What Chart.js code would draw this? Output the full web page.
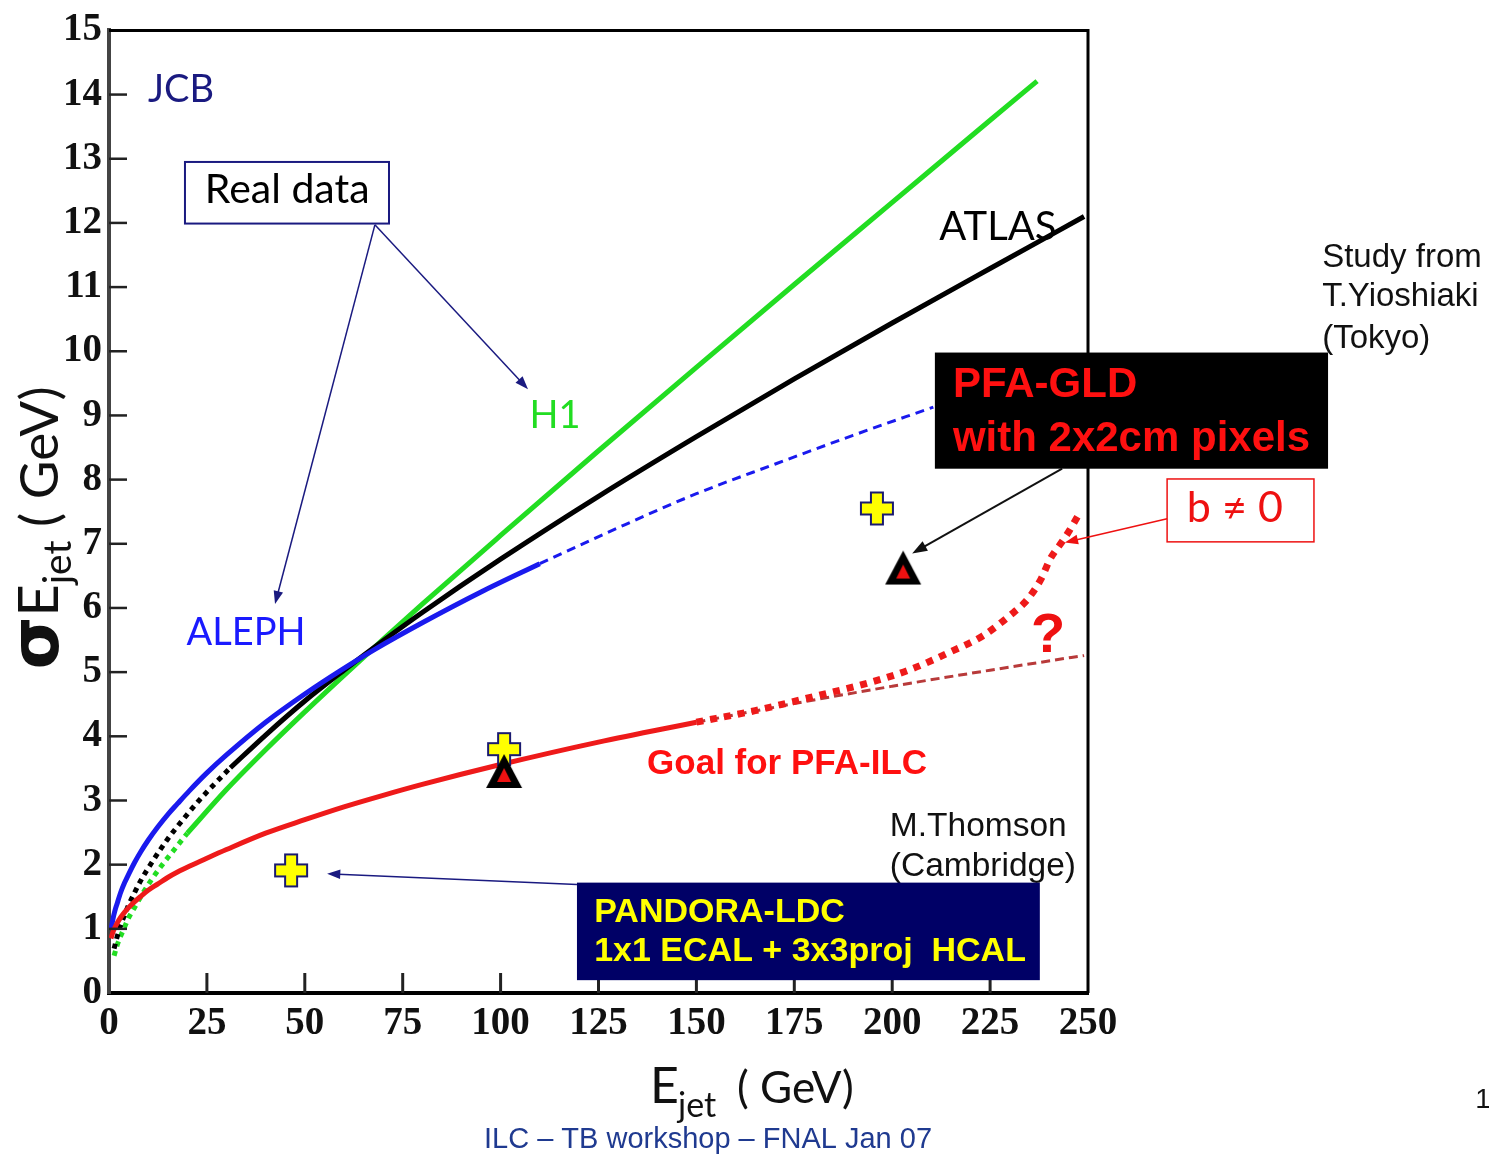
<!DOCTYPE html>
<html>
<head>
<meta charset="utf-8">
<script src="https://cdn.jsdelivr.net/npm/chart.js@4.4.1/dist/chart.umd.min.js"></script>
<style>
  html, body { margin: 0; padding: 0; background: #fff; }
  #wrap { width: 1489px; height: 1154px; }
</style>
</head>
<body>
<div id="wrap"><canvas id="jetChart" width="1489" height="1154"></canvas></div>
<script>
// axis ticks
const xTicks = [0, 25, 50, 75, 100, 125, 150, 175, 200, 225, 250];
const yTicks = [0, 1, 2, 3, 4, 5, 6, 7, 8, 9, 10, 11, 12, 13, 14, 15];

// H1 (green), dotted at low energy then solid
const h1LowE = [1.3, 2, 3, 4, 5, 6.5, 8, 11, 14, 17, 20];
const h1LowSigma = [0.58, 0.73, 0.89, 1.03, 1.17, 1.33, 1.49, 1.78, 2.03, 2.26, 2.49];
const h1E = [20, 30, 40, 50, 60, 70, 80, 100, 125, 150, 175, 200, 225, 237];
const h1Sigma = [2.49, 3.17, 3.79, 4.38, 4.95, 5.51, 6.06, 7.13, 8.45, 9.75, 11.04, 12.32, 13.60, 14.21];

// ATLAS (black)
const atlasLowE = [1.3, 2, 3, 4, 5, 6.5, 8, 11, 15, 19, 23, 27, 31];
const atlasLowSigma = [0.69, 0.86, 1.06, 1.22, 1.37, 1.56, 1.74, 2.04, 2.40, 2.71, 3.00, 3.26, 3.51];
const atlasE = [31, 40, 50, 60, 70, 80, 100, 125, 150, 175, 200, 225, 249];
const atlasSigma = [3.51, 4.02, 4.55, 5.03, 5.49, 5.93, 6.76, 7.74, 8.67, 9.57, 10.44, 11.29, 12.10];

// ALEPH (blue), solid then dashed extrapolation
const alephE = [0.5, 1, 1.5, 2, 3, 4, 5, 6.5, 8, 10, 12.5, 15, 17.5, 20.5, 25, 30, 40, 50, 60, 68, 80, 95, 110];
const alephSigma = [0.98, 1.15, 1.28, 1.38, 1.57, 1.72, 1.85, 2.03, 2.19, 2.38, 2.59, 2.78, 2.95, 3.15, 3.43, 3.71, 4.22, 4.66, 5.06, 5.36, 5.77, 6.25, 6.69];
const alephExtE = [110, 130, 150, 170, 190, 210.5];
const alephExtSigma = [6.69, 7.25, 7.78, 8.24, 8.69, 9.13];

// Goal for PFA-ILC (red)
const goalE = [0.5, 1, 1.5, 2, 3, 4, 5, 6.5, 8, 10, 12.5, 15, 17.5, 20.5, 25, 30, 40, 50, 60, 70, 80, 100, 125, 150];
const goalSigma = [0.85, 0.95, 1.02, 1.08, 1.18, 1.26, 1.33, 1.42, 1.50, 1.60, 1.70, 1.80, 1.885, 1.975, 2.10, 2.235, 2.49, 2.70, 2.90, 3.08, 3.25, 3.56, 3.91, 4.22];
const goalBE = [150, 165, 180, 195, 205, 215, 223, 230, 234.5, 238, 240.4, 243, 245, 247.3];
const goalBSigma = [4.22, 4.40, 4.62, 4.85, 5.05, 5.32, 5.56, 5.88, 6.13, 6.45, 6.77, 7.00, 7.18, 7.42];
const goalExtE = [150, 175, 200, 225, 249];
const goalExtSigma = [4.22, 4.51, 4.78, 5.03, 5.26];

// simulation points
const pandoraE = [46.5, 100.9, 196.1];
const pandoraSigma = [1.91, 3.80, 7.55];
const gldE = [100.9, 202.8];
const gldSigma = [3.46, 6.63];

function pts(xs, ys) {
  return xs.map((x, i) => ({ x: x, y: ys[i] }));
}

// marker images
function plusImage() {
  const c = document.createElement("canvas");
  c.width = 36; c.height = 36;
  const g = c.getContext("2d");
  const a = 12, b = 24;
  g.beginPath();
  g.moveTo(a, 2); g.lineTo(b, 2); g.lineTo(b, a); g.lineTo(34, a); g.lineTo(34, b);
  g.lineTo(b, b); g.lineTo(b, 34); g.lineTo(a, 34); g.lineTo(a, b); g.lineTo(2, b);
  g.lineTo(2, a); g.lineTo(a, a); g.closePath();
  g.fillStyle = "#ffff00"; g.fill();
  g.lineWidth = 2; g.strokeStyle = "#1a1a70"; g.stroke();
  return c;
}
function triImage() {
  const c = document.createElement("canvas");
  c.width = 38; c.height = 36;
  const g = c.getContext("2d");
  g.beginPath(); g.moveTo(19, 1); g.lineTo(37, 35); g.lineTo(1, 35); g.closePath();
  g.fillStyle = "#000"; g.fill();
  g.beginPath(); g.moveTo(19, 15); g.lineTo(26, 29); g.lineTo(12, 29); g.closePath();
  g.fillStyle = "#ee1111"; g.fill();
  return c;
}

function arrow(ctx, x1, y1, x2, y2, color, w, head) {
  const ang = Math.atan2(y2 - y1, x2 - x1);
  ctx.strokeStyle = color; ctx.fillStyle = color; ctx.lineWidth = w;
  ctx.beginPath(); ctx.moveTo(x1, y1);
  ctx.lineTo(x2 - head * 0.8 * Math.cos(ang), y2 - head * 0.8 * Math.sin(ang)); ctx.stroke();
  ctx.beginPath(); ctx.moveTo(x2, y2);
  ctx.lineTo(x2 - head * Math.cos(ang - 0.35), y2 - head * Math.sin(ang - 0.35));
  ctx.lineTo(x2 - head * Math.cos(ang + 0.35), y2 - head * Math.sin(ang + 0.35));
  ctx.closePath(); ctx.fill();
}

function txt(ctx, s, x, y, font, color, align) {
  ctx.font = font; ctx.fillStyle = color;
  ctx.textAlign = align || "left"; ctx.textBaseline = "middle";
  ctx.fillText(s, x, y);
}

const decor = {
  id: "decor",
  afterDraw(chart) {
    const ctx = chart.ctx, a = chart.chartArea;
    const xs = chart.scales.x, ys = chart.scales.y;
    const X = v => xs.getPixelForValue(v), Y = v => ys.getPixelForValue(v);
    ctx.save();

    // frame top and right
    ctx.strokeStyle = "#000"; ctx.lineWidth = 3;
    ctx.beginPath(); ctx.moveTo(a.left, a.top); ctx.lineTo(a.right, a.top); ctx.lineTo(a.right, a.bottom); ctx.stroke();

    // inward ticks
    ctx.strokeStyle = "#222"; ctx.lineWidth = 3;
    xTicks.slice(1, -1).forEach(v => {
      ctx.beginPath(); ctx.moveTo(X(v), a.bottom); ctx.lineTo(X(v), a.bottom - 20); ctx.stroke();
    });
    ctx.lineWidth = 2.5;
    yTicks.slice(1, -1).forEach(v => {
      ctx.beginPath(); ctx.moveTo(a.left, Y(v)); ctx.lineTo(a.left + 18, Y(v)); ctx.stroke();
    });

    // labels inside the plot
    txt(ctx, "JCB", X(18.4), Y(14.08), "38px Lato", "#1a1a80", "center");

    ctx.strokeStyle = "#1a1a80"; ctx.lineWidth = 2;
    ctx.fillStyle = "#fff";
    ctx.fillRect(X(19.4), Y(12.95), X(71.5) - X(19.4), Y(11.99) - Y(12.95));
    ctx.strokeRect(X(19.4), Y(12.95), X(71.5) - X(19.4), Y(11.99) - Y(12.95));
    txt(ctx, "Real data", X(45.5), Y(12.52), "41px Lato", "#000", "center");
    arrow(ctx, X(67.9), Y(11.97), X(107.0), Y(9.41), "#1a1a80", 1.5, 14);
    arrow(ctx, X(67.9), Y(11.97), X(42.4), Y(6.06), "#1a1a80", 1.5, 14);

    txt(ctx, "H1", X(113.9), Y(8.99), "38px Lato", "#22dd22", "center");
    txt(ctx, "ALEPH", X(35.0), Y(5.61), "38px Lato", "#1a1aff", "center");
    txt(ctx, "ATLAS", X(227.0), Y(11.94), "40px Lato", "#000", "center");

    txt(ctx, "Study from", X(309.8), Y(11.46), "33px 'Liberation Sans'", "#111");
    txt(ctx, "T.Yioshiaki", X(309.8), Y(10.84), "33px 'Liberation Sans'", "#111");
    txt(ctx, "(Tokyo)", X(309.8), Y(10.20), "33px 'Liberation Sans'", "#111");

    ctx.fillStyle = "#000";
    ctx.fillRect(X(210.9), Y(9.98), X(311.3) - X(210.9), Y(8.17) - Y(9.98));
    txt(ctx, "PFA-GLD", X(215.5), Y(9.46), "bold 42px 'Liberation Sans'", "#ff1010");
    txt(ctx, "with 2x2cm pixels", X(215.5), Y(8.63), "bold 42px 'Liberation Sans'", "#ff1010");
    arrow(ctx, X(243.4), Y(8.17), X(205.1), Y(6.85), "#111", 2, 16);

    ctx.fillStyle = "#fff"; ctx.strokeStyle = "#ee1111"; ctx.lineWidth = 1.5;
    ctx.fillRect(X(270.2), Y(8.01), X(307.7) - X(270.2), Y(7.03) - Y(8.01));
    ctx.strokeRect(X(270.2), Y(8.01), X(307.7) - X(270.2), Y(7.03) - Y(8.01));
    txt(ctx, "b \u2260 0", X(287.5), Y(7.56), "43px Lato", "#ee1111", "center");
    arrow(ctx, X(270.2), Y(7.39), X(244.1), Y(7.02), "#ee1111", 1.5, 14);

    txt(ctx, "?", X(239.8), Y(5.56), "bold 56px 'Liberation Sans'", "#ee1111", "center");
    txt(ctx, "Goal for PFA-ILC", X(137.4), Y(3.57), "bold 35px 'Liberation Sans'", "#ff1010");
    txt(ctx, "M.Thomson", X(199.4), Y(2.59), "33.5px 'Liberation Sans'", "#111");
    txt(ctx, "(Cambridge)", X(199.4), Y(1.97), "33.5px 'Liberation Sans'", "#111");

    ctx.fillStyle = "#000066";
    ctx.fillRect(X(119.5), Y(1.72), X(237.7) - X(119.5), Y(0.20) - Y(1.72));
    txt(ctx, "PANDORA-LDC", X(123.9), Y(1.26), "bold 34px 'Liberation Sans'", "#ffff00");
    txt(ctx, "1x1 ECAL + 3x3proj  HCAL", X(123.9), Y(0.64), "bold 34px 'Liberation Sans'", "#ffff00");
    arrow(ctx, X(119.5), Y(1.69), X(55.7), Y(1.86), "#1a1a80", 1.5, 14);

    // axis titles
    ctx.textAlign = "left"; ctx.textBaseline = "alphabetic"; ctx.fillStyle = "#111";
    ctx.font = "50px Lato"; ctx.fillText("E", 650, 1103);
    ctx.font = "34px Lato"; ctx.fillText("jet", 678, 1117);
    ctx.font = "44px Lato"; ctx.fillText("( GeV)", 737, 1103);

    ctx.save();
    ctx.translate(58, 528); ctx.rotate(-Math.PI / 2);
    const parts = [["\u03c3", "bold 68px 'DejaVu Sans'", 0], ["E", "56px Lato", 0], ["jet", "39px Lato", 13], [" ( GeV)", "53px Lato", 0]];
    let total = 0;
    parts.forEach(p => { ctx.font = p[1]; total += ctx.measureText(p[0]).width; });
    let cx = -total / 2;
    parts.forEach(p => { ctx.font = p[1]; ctx.fillText(p[0], cx, p[2]); cx += ctx.measureText(p[0]).width; });
    ctx.restore();

    // footer
    txt(ctx, "ILC \u2013 TB workshop \u2013 FNAL Jan 07", 708, 1140, "29px 'Liberation Sans'", "#1f3a90", "center");
    txt(ctx, "1", 1483, 1100, "28px 'Liberation Sans'", "#111", "center");
    ctx.restore();
  }
};

const lineBase = { showLine: true, pointRadius: 0, fill: false, cubicInterpolationMode: "monotone" };

new Chart(document.getElementById("jetChart"), {
  type: "scatter",
  data: {
    datasets: [
      { data: pts(gldE, gldSigma), pointStyle: triImage(), order: 0 },
      { data: pts(pandoraE, pandoraSigma), pointStyle: plusImage(), order: 1 },
      Object.assign({ data: pts(goalE, goalSigma), borderColor: "#ee1a1a", borderWidth: 5, order: 2 }, lineBase),
      Object.assign({ data: pts(goalBE, goalBSigma), borderColor: "#ee1a1a", borderWidth: 7, borderDash: [7, 7], order: 3 }, lineBase),
      Object.assign({ data: pts(goalExtE, goalExtSigma), borderColor: "#b83a3a", borderWidth: 3, borderDash: [9, 5], order: 4 }, lineBase),
      Object.assign({ data: pts(alephE, alephSigma), borderColor: "#1a1aee", borderWidth: 5, order: 5 }, lineBase),
      Object.assign({ data: pts(alephExtE, alephExtSigma), borderColor: "#1a1aee", borderWidth: 3, borderDash: [9, 6], order: 6 }, lineBase),
      Object.assign({ data: pts(atlasLowE, atlasLowSigma), borderColor: "#000", borderWidth: 5, borderDash: [5, 5], order: 7 }, lineBase),
      Object.assign({ data: pts(atlasE, atlasSigma), borderColor: "#000", borderWidth: 5, order: 8 }, lineBase),
      Object.assign({ data: pts(h1LowE, h1LowSigma), borderColor: "#22dd22", borderWidth: 5, borderDash: [5, 5], order: 9 }, lineBase),
      Object.assign({ data: pts(h1E, h1Sigma), borderColor: "#22dd22", borderWidth: 5, order: 10 }, lineBase)
    ]
  },
  options: {
    responsive: false,
    animation: false,
    layout: { padding: { left: 0, top: 25, right: 401, bottom: 0 } },
    plugins: { legend: { display: false }, tooltip: { enabled: false } },
    scales: {
      x: {
        type: "linear", min: 0, max: 250,
        afterBuildTicks: s => { s.ticks = xTicks.map(v => ({ value: v })); },
        afterFit: s => { s.height = 161; },
        grid: { display: false, drawTicks: false },
        border: { display: true, color: "#000", width: 4 },
        ticks: { padding: 8, color: "#111", font: { family: "'Liberation Serif'", size: 39, weight: "bold" } }
      },
      y: {
        type: "linear", min: 0, max: 15,
        afterBuildTicks: s => { s.ticks = yTicks.map(v => ({ value: v })); },
        afterFit: s => { s.width = 109; },
        grid: { display: false, drawTicks: false },
        border: { display: true, color: "#444", width: 4 },
        ticks: { padding: 7, color: "#111", font: { family: "'Liberation Serif'", size: 39, weight: "bold" } }
      }
    }
  },
  plugins: [decor]
});
</script>
</body>
</html>
